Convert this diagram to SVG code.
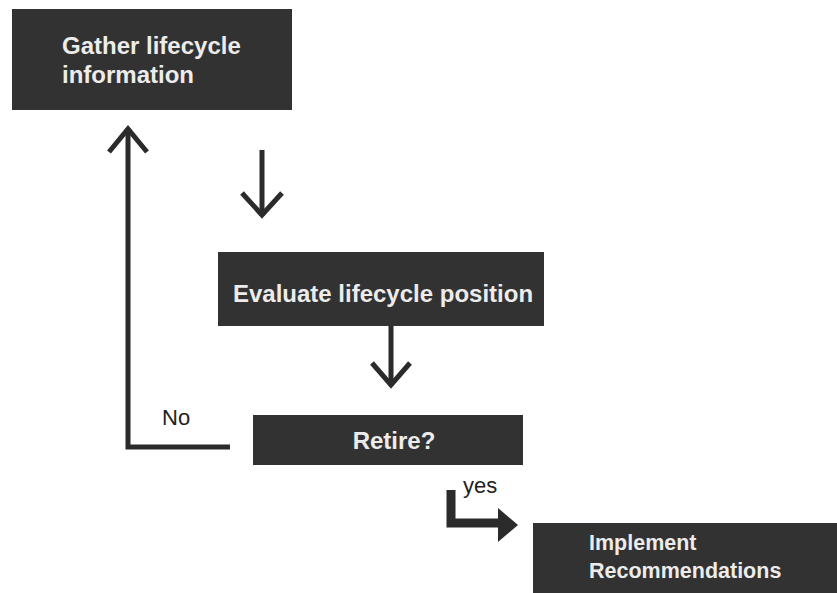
<svg xmlns="http://www.w3.org/2000/svg" width="837" height="593" viewBox="0 0 837 593">
<style>
.box{fill:#323232;}
.lbl{font-family:"Liberation Sans",Arial,sans-serif;font-weight:bold;font-size:24px;fill:#ececec;}
.lbl2{font-family:"Liberation Sans",Arial,sans-serif;font-weight:bold;font-size:21.5px;fill:#ececec;}
.edge{font-family:"Liberation Sans",Arial,sans-serif;font-size:22px;fill:#222;}
.ln{stroke:#2b2b2b;stroke-width:5;fill:none;stroke-linecap:butt;}
.hd{stroke:#2b2b2b;stroke-width:5;fill:none;stroke-linejoin:miter;}
</style>
<rect width="837" height="593" fill="#ffffff"/>
<g id="node-gather">
<rect class="box" x="12" y="9" width="280" height="101"/>
<text class="lbl" x="62" y="54">Gather lifecycle</text>
<text class="lbl" x="62" y="83">information</text>
</g>
<g id="node-evaluate">
<rect class="box" x="218" y="252" width="326" height="74"/>
<text class="lbl" x="383" y="302" text-anchor="middle">Evaluate lifecycle position</text>
</g>
<g id="node-retire">
<rect class="box" x="253" y="415" width="270" height="50"/>
<text class="lbl" x="394" y="449" text-anchor="middle">Retire?</text>
</g>
<g id="node-implement">
<rect class="box" x="533" y="523" width="304" height="70"/>
<text class="lbl2" x="589" y="550">Implement</text>
<text class="lbl2" x="589" y="578">Recommendations</text>
</g>
<g id="connectors">
<path class="ln" d="M230,447 H128 V128"/>
<path class="hd" d="M109,152 L128,129 L147,152"/>
<text class="edge" x="162" y="425">No</text>
<path class="ln" d="M262,150 V216"/>
<path class="hd" d="M242,193 L262,215 L282,193"/>
<path class="ln" d="M391,326 V386"/>
<path class="hd" d="M372,363 L391,385 L410,363"/>
<path d="M451,490 V523 H500" stroke="#2b2b2b" stroke-width="9" fill="none"/>
<polygon points="498,508 518,525 498,542" fill="#2b2b2b"/>
<text class="edge" x="463" y="493">yes</text>
</g>
</svg>
